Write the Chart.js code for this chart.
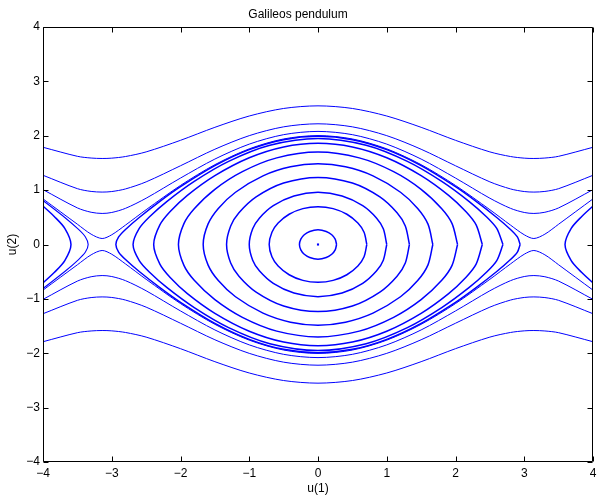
<!DOCTYPE html>
<html>
<head>
<meta charset="utf-8">
<title>Galileos pendulum</title>
<script src="https://cdn.jsdelivr.net/npm/chart.js@4.4.1/dist/chart.umd.min.js"></script>
<style>
  body { margin: 0; background: #fff; }
  #wrap { width: 597px; height: 496px; }
</style>
</head>
<body>
<div id="wrap"><canvas id="phase" width="597" height="496"></canvas></div>
<script>
// eixos
const xTicks = [-4, -3, -2, -1, 0, 1, 2, 3, 4];
const yTicks = [-4, -3, -2, -1, 0, 1, 2, 3, 4];

// órbitas fechadas: quarto de volta, de (A,0) até (0,v0)
const orbit1 = [[0.27, 0], [0.25, 0.10], [0.20, 0.18], [0.12, 0.24], [0, 0.27]];
const orbit2 = [[0.71, 0], [0.67, 0.225], [0.58, 0.395], [0.42, 0.556], [0.22, 0.66], [0, 0.695]];
const orbit3 = [[1.0, 0], [0.95, 0.288], [0.85, 0.489], [0.65, 0.715], [0.35, 0.893], [0, 0.959]];
const orbit4 = [[1.33, 0], [1.27, 0.34], [1.15, 0.583], [0.9, 0.875], [0.5, 1.131], [0, 1.234]];
const orbit5 = [[1.67, 0], [1.6, 0.374], [1.45, 0.663], [1.2, 0.961], [0.8, 1.262], [0.4, 1.428], [0, 1.483]];
const orbit6 = [[2.03, 0], [1.95, 0.384], [1.8, 0.658], [1.5, 1.015], [1.1, 1.34], [0.6, 1.593], [0, 1.699]];
const orbit7 = [[2.39, 0], [2.3, 0.36], [2.15, 0.606], [1.9, 0.903], [1.5, 1.266], [1.0, 1.595], [0.5, 1.794], [0, 1.861]];
const orbit8 = [[2.69, 0], [2.6, 0.296], [2.45, 0.511], [2.2, 0.79], [1.8, 1.161], [1.3, 1.529], [0.7, 1.825], [0, 1.95]];
const orbit9 = [[2.94, 0], [2.9, 0.139], [2.8, 0.277], [2.6, 0.497], [2.3, 0.793], [2.0, 1.063], [1.5, 1.45], [1.0, 1.744], [0.5, 1.928], [0, 1.99]];

// órbitas abertas (u >= 0, metade superior)
const uOpen  = [0, 0.5, 1, 1.5, 2, 2.5, 2.8, 3.0, 3.14, 3.3, 3.5, 4];
const vOpenA = [2.55, 2.502, 2.363, 2.155, 1.916, 1.703, 1.618, 1.588, 1.582, 1.590, 1.622, 1.788];
const vOpenB = [2.22, 2.164, 2.002, 1.752, 1.448, 1.152, 1.022, 0.974, 0.964, 0.976, 1.027, 1.273];
const vOpenC = [2.08, 2.02, 1.846, 1.571, 1.222, 0.851, 0.665, 0.589, 0.571, 0.593, 0.673, 1.009];
const vOpenD = [2.003, 1.941, 1.759, 1.468, 1.086, 0.64, 0.357, 0.179, 0.11, 0.19, 0.373, 0.839];

// pedaços das órbitas em torno de +-2pi
const rightArc = [[4.083, 0.79], [4, 0.705], [3.833, 0.511], [3.683, 0.296], [3.593, 0], [3.683, -0.296], [3.833, -0.511], [4, -0.705], [4.083, -0.79]];
const leftArc1 = [[-4.083, 0.79], [-4, 0.705], [-3.833, 0.511], [-3.683, 0.296], [-3.593, 0], [-3.683, -0.296], [-3.833, -0.511], [-4, -0.705], [-4.083, -0.79]];
const leftArc2 = [[-4, 0.81], [-3.683, 0.497], [-3.483, 0.277], [-3.383, 0.139], [-3.343, 0], [-3.383, -0.139], [-3.483, -0.277], [-3.683, -0.497], [-4, -0.81]];

const centre = [[0, 0]];

const BLUE = '#0000ff';

function closedLoop(q) {
    const pts = [];
    q.forEach(([u, v]) => pts.push({ x: u, y: v }));
    q.slice(0, -1).reverse().forEach(([u, v]) => pts.push({ x: -u, y: v }));
    q.slice(1).forEach(([u, v]) => pts.push({ x: -u, y: -v }));
    q.slice(0, -1).reverse().forEach(([u, v]) => pts.push({ x: u, y: -v }));
    return pts;
}

function openLine(vals, sign) {
    const pts = [];
    for (let i = uOpen.length - 1; i > 0; i--) pts.push({ x: -uOpen[i], y: sign * vals[i] });
    for (let i = 0; i < uOpen.length; i++) pts.push({ x: uOpen[i], y: sign * vals[i] });
    return pts;
}

function toPts(arr) {
    return arr.map(([u, v]) => ({ x: u, y: v }));
}

function line(data, width) {
    return { data, borderColor: BLUE, borderWidth: width, pointRadius: 0, showLine: true, tension: 0.3, fill: false };
}

const datasets = [];
[orbit1, orbit2, orbit3, orbit4, orbit5, orbit6, orbit7, orbit8, orbit9].forEach(q => {
    datasets.push(line(closedLoop(q), 1.5));
});
[vOpenA, vOpenB, vOpenC, vOpenD].forEach(v => {
    datasets.push(line(openLine(v, 1), 1));
    datasets.push(line(openLine(v, -1), 1));
});
datasets.push(line(toPts(rightArc), 1.5));
datasets.push(line(toPts(leftArc1), 1.5));
datasets.push(line(toPts(leftArc2), 1.1));
datasets.push({ data: toPts(centre), showLine: false, pointRadius: 1.5, pointStyle: 'rect', backgroundColor: BLUE, borderColor: BLUE, borderWidth: 0 });

// caixa e marcas para dentro, estilo matlab
const boxPlugin = {
    id: 'boxPlugin',
    afterDraw(chart) {
        const { ctx, chartArea: a, scales } = chart;
        const L = Math.round(a.left) + 0.5, R = Math.round(a.right) - 0.5;
        const T = Math.round(a.top) + 0.5, B = Math.round(a.bottom) - 0.5;
        ctx.save();
        ctx.strokeStyle = '#000';
        ctx.lineWidth = 1;
        ctx.beginPath();
        ctx.rect(L, T, R - L, B - T);
        scales.x.ticks.forEach(t => {
            const px = Math.round(scales.x.getPixelForValue(t.value)) + 0.5;
            ctx.moveTo(px, B); ctx.lineTo(px, B - 5);
            ctx.moveTo(px, T); ctx.lineTo(px, T + 5);
        });
        scales.y.ticks.forEach(t => {
            const py = Math.round(scales.y.getPixelForValue(t.value)) + 0.5;
            ctx.moveTo(L, py); ctx.lineTo(L + 5, py);
            ctx.moveTo(R, py); ctx.lineTo(R - 5, py);
        });
        ctx.stroke();
        ctx.restore();
    }
};

const fmt = v => (v < 0 ? '\u2212' + Math.abs(v) : String(v));
const font = { family: '"Liberation Sans", Arial, Helvetica, sans-serif', size: 12 };

new Chart(document.getElementById('phase'), {
    type: 'scatter',
    data: { datasets },
    options: {
        responsive: false,
        animation: false,
        layout: { padding: { left: 0, right: 1, top: 0, bottom: 0 } },
        plugins: {
            legend: { display: false },
            tooltip: { enabled: false },
            title: {
                display: true,
                text: 'Galileos pendulum',
                color: '#000',
                font: { ...font, weight: 'normal' },
                padding: { top: 7, bottom: 5.6 }
            }
        },
        scales: {
            x: {
                type: 'linear',
                min: xTicks[0],
                max: xTicks[xTicks.length - 1],
                afterBuildTicks: s => { s.ticks = xTicks.map(v => ({ value: v })); },
                ticks: { color: '#000', font, padding: 4, maxRotation: 0, autoSkip: false, callback: fmt },
                grid: { display: false, drawTicks: false },
                border: { display: false },
                title: { display: true, text: 'u(1)', color: '#000', font, padding: { top: 0, bottom: 0 } },
                afterFit: s => { s.height = 34; s.paddingLeft = 0; s.paddingRight = 0; }
            },
            y: {
                type: 'linear',
                min: yTicks[0],
                max: yTicks[yTicks.length - 1],
                afterBuildTicks: s => { s.ticks = yTicks.map(v => ({ value: v })); },
                ticks: { color: '#000', font, padding: 3, autoSkip: false, callback: fmt },
                grid: { display: false, drawTicks: false },
                border: { display: false },
                title: { display: true, text: 'u(2)', color: '#000', font, padding: { top: 5, bottom: 0 } },
                afterFit: s => { s.width = 43; s.paddingTop = 0; s.paddingBottom = 0; }
            }
        }
    },
    plugins: [boxPlugin]
});
</script>
</body>
</html>
